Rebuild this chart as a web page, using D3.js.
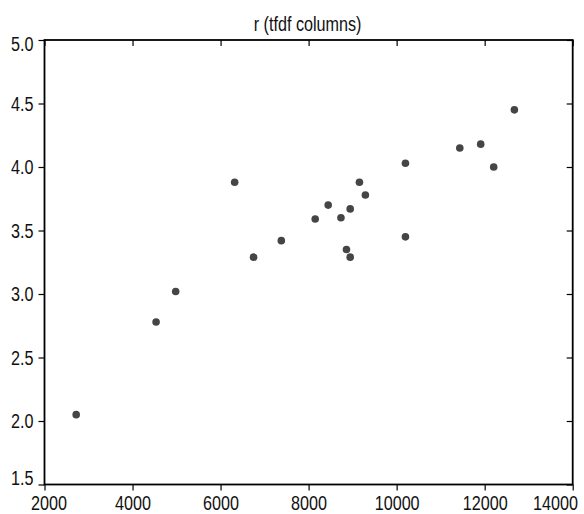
<!DOCTYPE html>
<html>
<head>
<meta charset="utf-8">
<script src="https://cdn.jsdelivr.net/npm/d3@7"></script>
<style>
  html, body { margin: 0; padding: 0; background: #fff; }
  svg { display: block; }
  text { font-family: "Liberation Sans Narrow", "Liberation Sans", sans-serif; fill: #111; }
</style>
</head>
<body>
<svg id="chart" width="584" height="514"></svg>
<script>
const title = "r (tfdf columns)";
const xValues = [2720, 4535, 4980, 6320, 6750, 7380, 8150, 8445, 8735, 8860, 8945, 8945, 9155, 9290, 10200, 10200, 11435, 11910, 12205, 12675];
const yValues = [2.05, 2.78, 3.02, 3.88, 3.29, 3.42, 3.59, 3.70, 3.60, 3.35, 3.67, 3.29, 3.88, 3.78, 4.03, 3.45, 4.15, 4.18, 4.00, 4.45];
const xTicks = [2000, 4000, 6000, 8000, 10000, 12000, 14000];
const yTicks = [1.5, 2.0, 2.5, 3.0, 3.5, 4.0, 4.5, 5.0];

const svg = d3.select("#chart");
const mLeft = 44.5, mRight = 572.7, mTop = 40, mBottom = 484.5;

const x = d3.scaleLinear().domain([2000, 14000]).range([mLeft, mRight]);
const y = d3.scaleLinear().domain([1.5, 5.0]).range([mBottom, mTop]);

const fontSize = 21;
const sx = 0.77; // horizontal condensing to imitate a narrow face

const gx = svg.append("g").attr("transform", `translate(0,${mBottom})`)
  .call(d3.axisBottom(x).tickValues(xTicks).tickFormat(d3.format("d")).tickSize(6).tickPadding(5));
const gy = svg.append("g").attr("transform", `translate(${mLeft},0)`)
  .call(d3.axisLeft(y).tickValues(yTicks).tickFormat(d3.format(".1f")).tickSize(6).tickPadding(5));
const gt = svg.append("g").attr("transform", `translate(0,${mTop})`)
  .call(d3.axisTop(x).tickValues(xTicks).tickFormat("").tickSize(-6));
const gr = svg.append("g").attr("transform", `translate(${mRight},0)`)
  .call(d3.axisRight(y).tickValues(yTicks).tickFormat("").tickSize(-6));

[gx, gy, gt, gr].forEach(g => {
  g.select(".domain").remove();
  g.selectAll(".tick line").attr("stroke", "#000").attr("stroke-width", 1.2);
  g.selectAll("text").attr("font-size", fontSize).attr("font-family", "Liberation Sans").attr("fill", "#111");
});

function condense(sel) {
  sel.each(function() {
    const t = d3.select(this);
    const x0 = +t.attr("x") || 0;
    t.attr("x", x0 / sx).attr("transform", `scale(${sx},1)`);
  });
}
condense(gx.selectAll(".tick text"));
condense(gy.selectAll(".tick text"));

gx.selectAll(".tick text").each(function() {
  const b = this.getBBox();
  const p = this.parentNode.transform.baseVal.consolidate().matrix.e;
  const l = p + b.x * sx, r = p + (b.x + b.width) * sx;
  const t = d3.select(this);
  const cur = +t.attr("x") || 0;
  if (l < 31) t.attr("x", cur + (31 - l) / sx);
  if (r > 578) t.attr("x", cur + (578 - r) / sx);
});
gy.selectAll(".tick text").each(function() {
  const b = this.getBBox();
  const p = this.parentNode.transform.baseVal.consolidate().matrix.f;
  const tp = p + b.y + b.height * 0.2, bt = p + b.y + b.height * 0.85;
  let dy = 0;
  if (tp < mTop - 3) dy = (mTop - 3) - tp;
  if (bt > mBottom + 1) dy = (mBottom + 1) - bt;
  if (dy) d3.select(this).attr("y", dy);
});

svg.append("rect")
  .attr("x", mLeft).attr("y", mTop)
  .attr("width", mRight - mLeft).attr("height", mBottom - mTop)
  .attr("fill", "none").attr("stroke", "#000").attr("stroke-width", 1.8);

svg.append("g").selectAll("circle")
  .data(xValues.map((v, i) => [v, yValues[i]]))
  .join("circle")
  .attr("cx", d => x(d[0]))
  .attr("cy", d => y(d[1]))
  .attr("r", 3.8)
  .attr("fill", "#454545");

svg.append("text")
  .attr("transform", `translate(${(mLeft + mRight) / 2 - 1},30.5) scale(${sx},1)`)
  .attr("text-anchor", "middle")
  .attr("font-size", fontSize)
  .attr("font-family", "Liberation Sans")
  .text(title);
</script>
</body>
</html>
